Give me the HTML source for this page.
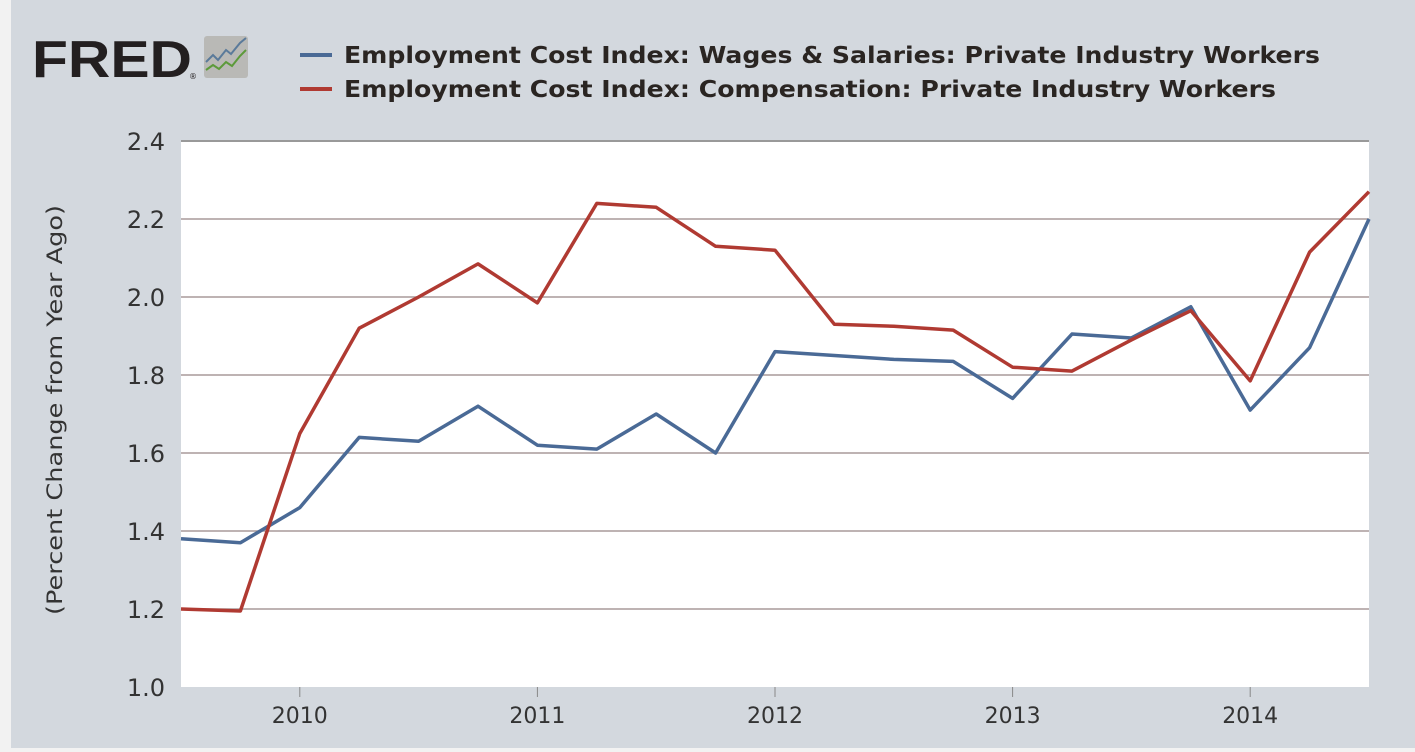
<!DOCTYPE html>
<html><head><meta charset="utf-8"><style>
body{margin:0;width:1415px;height:748px;background:#f2f2f2;overflow:hidden;font-family:"DejaVu Sans",sans-serif}
</style></head><body>
<svg width="1415" height="748" font-family="DejaVu Sans, sans-serif">
<rect x="11" y="0" width="1404" height="748" fill="#d3d8de"/>
<g>
<text x="32" y="77" font-size="52" font-weight="bold" fill="#231f20" textLength="160" lengthAdjust="spacingAndGlyphs" font-family="Liberation Sans">FRED</text>
<text x="189" y="79" font-size="8" fill="#231f20">®</text>
<rect x="204" y="36" width="44" height="42" rx="3" fill="#b9b9b6"/>
<polyline points="206,62 213,55 218,60 226,50 231,54 240,43 246,38" fill="none" stroke="#5a7a9a" stroke-width="2"/>
<polyline points="206,70 213,65 219,69 226,62 232,66 240,56 246,50" fill="none" stroke="#5c9a3a" stroke-width="2"/>
</g>
<g>
<line x1="300" y1="55" x2="332" y2="55" stroke="#4a6a96" stroke-width="4"/>
<text x="344" y="63" font-size="23" font-weight="bold" fill="#2a2522" textLength="976" lengthAdjust="spacingAndGlyphs">Employment Cost Index: Wages &amp; Salaries: Private Industry Workers</text>
<line x1="300" y1="89" x2="332" y2="89" stroke="#b03a32" stroke-width="4"/>
<text x="344" y="97" font-size="23" font-weight="bold" fill="#2a2522" textLength="932" lengthAdjust="spacingAndGlyphs">Employment Cost Index: Compensation: Private Industry Workers</text>
</g>
<rect x="181" y="141" width="1188" height="546" fill="#fff"/>
<line x1="181" y1="141" x2="1369" y2="141" stroke="#999" stroke-width="2"/>
<g id="grid"></g><g id="yt"></g><g id="xt"></g><g id="series"></g>
<text transform="translate(62,410) rotate(-90)" text-anchor="middle" font-size="21" fill="#333" textLength="410" lengthAdjust="spacingAndGlyphs">(Percent Change from Year Ago)</text>
</svg>
<script>
const yTicks=[1.0,1.2,1.4,1.6,1.8,2.0,2.2,2.4];
const xYears=[2010,2011,2012,2013,2014];
const wages=[1.38,1.37,1.46,1.64,1.63,1.72,1.62,1.61,1.70,1.60,1.86,1.85,1.84,1.835,1.74,1.905,1.895,1.975,1.71,1.87,2.20];
const compensation=[1.20,1.195,1.65,1.92,2.00,2.085,1.985,2.24,2.23,2.13,2.12,1.93,1.925,1.915,1.82,1.81,1.89,1.965,1.785,2.115,2.27];
const startYear=2009.5;
const X0=181,X1=1369,Y0=687,Y1=141;
const x=t=>X0+(t-startYear)/5*(X1-X0);
const y=v=>Y0-(v-1.0)/1.4*(Y0-Y1);
const NS='http://www.w3.org/2000/svg';
function mk(tag,attrs,parent){const e=document.createElementNS(NS,tag);for(const k in attrs)e.setAttribute(k,attrs[k]);parent.appendChild(e);return e;}
const grid=document.getElementById('grid'),yt=document.getElementById('yt'),xt=document.getElementById('xt'),ser=document.getElementById('series');
yTicks.forEach(v=>{
  if(v>1.0&&v<2.4){const l=mk('line',{x1:X0,x2:X1,y1:y(v),y2:y(v),stroke:'#a89a9a','stroke-width':1.5},grid);
  
  }
  const t=mk('text',{x:146,y:y(v)+9,'text-anchor':'middle','font-size':24,fill:'#333'},yt);
  t.textContent=v.toFixed(1);
  
  
});
xYears.forEach(yr=>{
  const xx=x(yr);
  const l=mk('line',{x1:xx,x2:xx,y1:Y0,y2:Y0+10,stroke:'#888','stroke-width':1},xt);
  
  
  const t=mk('text',{x:xx,y:Y0+36,'text-anchor':'middle','font-size':22,fill:'#333'},xt);
  t.textContent=yr;
  
  
});
function line(data,color,name){
  const pts=data.map((v,i)=>x(startYear+i*0.25)+','+y(v)).join(' ');
  const p=mk('polyline',{points:pts,fill:'none',stroke:color,'stroke-width':3.5,'stroke-linejoin':'round'},ser);
  
  
}
line(wages,'#4a6a96','wages-line');
line(compensation,'#b03a32','compensation-line');
</script>
</body></html>
